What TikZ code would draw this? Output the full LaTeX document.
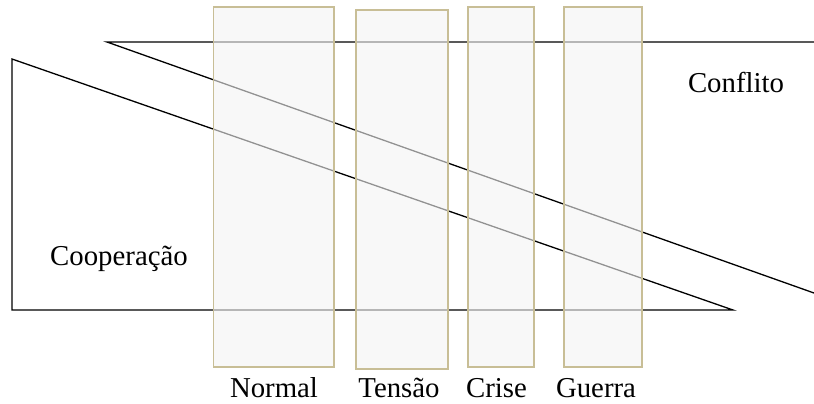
\documentclass[tikz,border=0pt]{standalone}
\usepackage{fontspec}
\setmainfont{Liberation Serif}
\usetikzlibrary{positioning, calc}

\begin{document}
\begin{tikzpicture}[
      x=0.5pt, y=-0.5pt,
      edge/.style={draw=black, line width=0.65pt},
      phase/.style={draw=phaseborder, fill=phasefill, fill opacity=0.6, line width=0.8pt},
      lbl/.style={anchor=base, inner sep=0pt, font=\fontsize{14.4}{17}\selectfont}
  ]
      \definecolor{phaseborder}{RGB}{200,190,150}
      \definecolor{phasefill}{RGB}{244,244,244}
      \useasboundingbox (0,0) rectangle (814,403);

      % Upper wedge: Conflito
      \coordinate (cfTip) at (107,42);
      \coordinate (cfTop) at (814,42);
      \coordinate (cfLow) at (814,293);
      \draw [edge] (cfTop) -- (cfTip) -- (cfLow);

      % Lower wedge: Cooperacao
      \coordinate (cpTop) at (12,59);
      \coordinate (cpBase) at (12,310);
      \coordinate (cpTip) at (733,310);
      \draw [edge, line join=miter] (cpTip) -- (cpTop) -- (cpBase) -- cycle;

      % Phases
      \draw [phase] (213.5,7) rectangle (334,367);
      \draw [phase] (356,10) rectangle (448,369);
      \draw [phase] (467.7,7) rectangle (534,367);
      \draw [phase] (563.7,7) rectangle (642,367);

      % Labels
      \node [lbl] (conflito) at (736,92) {Conflito};
      \node [lbl] (cooperacao) at (119,265) {Cooperação};
      \node [lbl] (normal) at (274,397) {Normal};
      \node [lbl] (tensao) at (399,397) {Tensão};
      \node [lbl] (crise) at (496.5,397) {Crise};
      \node [lbl] (guerra) at (596,397) {Guerra};
  \end{tikzpicture}
\end{document}
